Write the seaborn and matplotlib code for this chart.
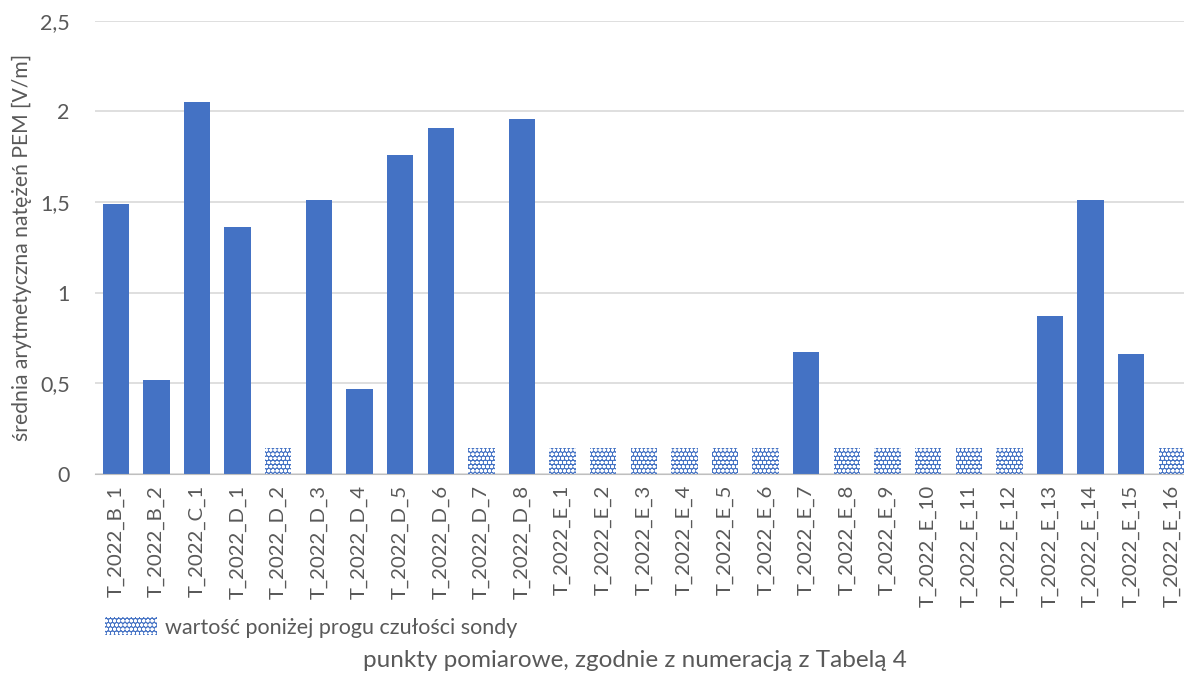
import matplotlib
matplotlib.use("Agg")
import matplotlib.pyplot as plt
import matplotlib.patches as mpatches
from matplotlib.ticker import FuncFormatter
import pandas as pd
import seaborn as sns

# ---- dane ----
POINTS = ["T_2022_B_1", "T_2022_B_2", "T_2022_C_1", "T_2022_D_1", "T_2022_D_2",
          "T_2022_D_3", "T_2022_D_4", "T_2022_D_5", "T_2022_D_6", "T_2022_D_7",
          "T_2022_D_8", "T_2022_E_1", "T_2022_E_2", "T_2022_E_3", "T_2022_E_4",
          "T_2022_E_5", "T_2022_E_6", "T_2022_E_7", "T_2022_E_8", "T_2022_E_9",
          "T_2022_E_10", "T_2022_E_11", "T_2022_E_12", "T_2022_E_13", "T_2022_E_14",
          "T_2022_E_15", "T_2022_E_16"]
VALUES = [1.49, 0.52, 2.05, 1.36, 0.14, 1.51, 0.47, 1.76, 1.91, 0.14,
          1.96, 0.14, 0.14, 0.14, 0.14, 0.14, 0.14, 0.67, 0.14, 0.14,
          0.14, 0.14, 0.14, 0.87, 1.51, 0.66, 0.14]
# punkty poniżej progu czułości sondy
BELOW = [False, False, False, False, True, False, False, False, False, True,
         False, True, True, True, True, True, True, False, True, True,
         True, True, True, False, False, False, True]

BLUE = "#4472C4"
GRAY = "#595959"
FONT = ["Lato", "DejaVu Sans"]

df = pd.DataFrame({"punkt": POINTS, "wartosc": VALUES, "ponizej": BELOW})

sns.set_style("white")
plt.rcParams["font.family"] = FONT
plt.rcParams["hatch.linewidth"] = 1.0

fig = plt.figure(figsize=(11.84, 6.73), dpi=100)
ax = fig.add_axes([0.080, 0.296, 0.92, 0.673])

sns.barplot(data=df, x="punkt", y="wartosc", color=BLUE, saturation=1,
            width=0.65, ax=ax)

# wzór dla punktów poniżej progu
for patch, below in zip(ax.patches, BELOW):
    patch.set_linewidth(0)
    if below:
        patch.set_facecolor(BLUE)
        patch.set_edgecolor("white")
        patch.set_hatch("oooo")

ax.set_ylim(0, 2.5)
ax.set_xlim(-0.52, 26.3)
ax.set_yticks([0, 0.5, 1, 1.5, 2, 2.5])
ax.yaxis.set_major_formatter(FuncFormatter(lambda v, p: f"{v:g}".replace(".", ",")))
ax.grid(axis="y", color="#D9D9D9", linewidth=1.2)
ax.set_axisbelow(True)
for s in ["top", "right", "left"]:
    ax.spines[s].set_visible(False)
ax.spines["bottom"].set_color("#BFBFBF")
ax.tick_params(axis="x", rotation=90, labelsize=14.7, labelcolor=GRAY,
               length=0, pad=8)
ax.tick_params(axis="y", labelsize=15.5, labelcolor=GRAY, length=0, pad=18)

ax.set_xlabel("")
ax.set_ylabel("średnia arytmetyczna natężeń PEM [V/m]", fontsize=15.2,
              color=GRAY, labelpad=6)
fig.text(0.536, 0.019, "punkty pomiarowe, zgodnie z numeracją z Tabelą 4",
         ha="center", va="center", fontsize=17.5, color=GRAY)

handle = mpatches.Patch(facecolor=BLUE, edgecolor="white", hatch="oooo",
                        linewidth=0)
fig.legend([handle], ["wartość poniżej progu czułości sondy"],
           loc="center left", bbox_to_anchor=(0.089, 0.068), frameon=False,
           fontsize=15.5, labelcolor=GRAY, handlelength=2.4, handleheight=0.95,
           handletextpad=0.35, borderpad=0, borderaxespad=0)

fig.savefig("out.png", dpi=100)
